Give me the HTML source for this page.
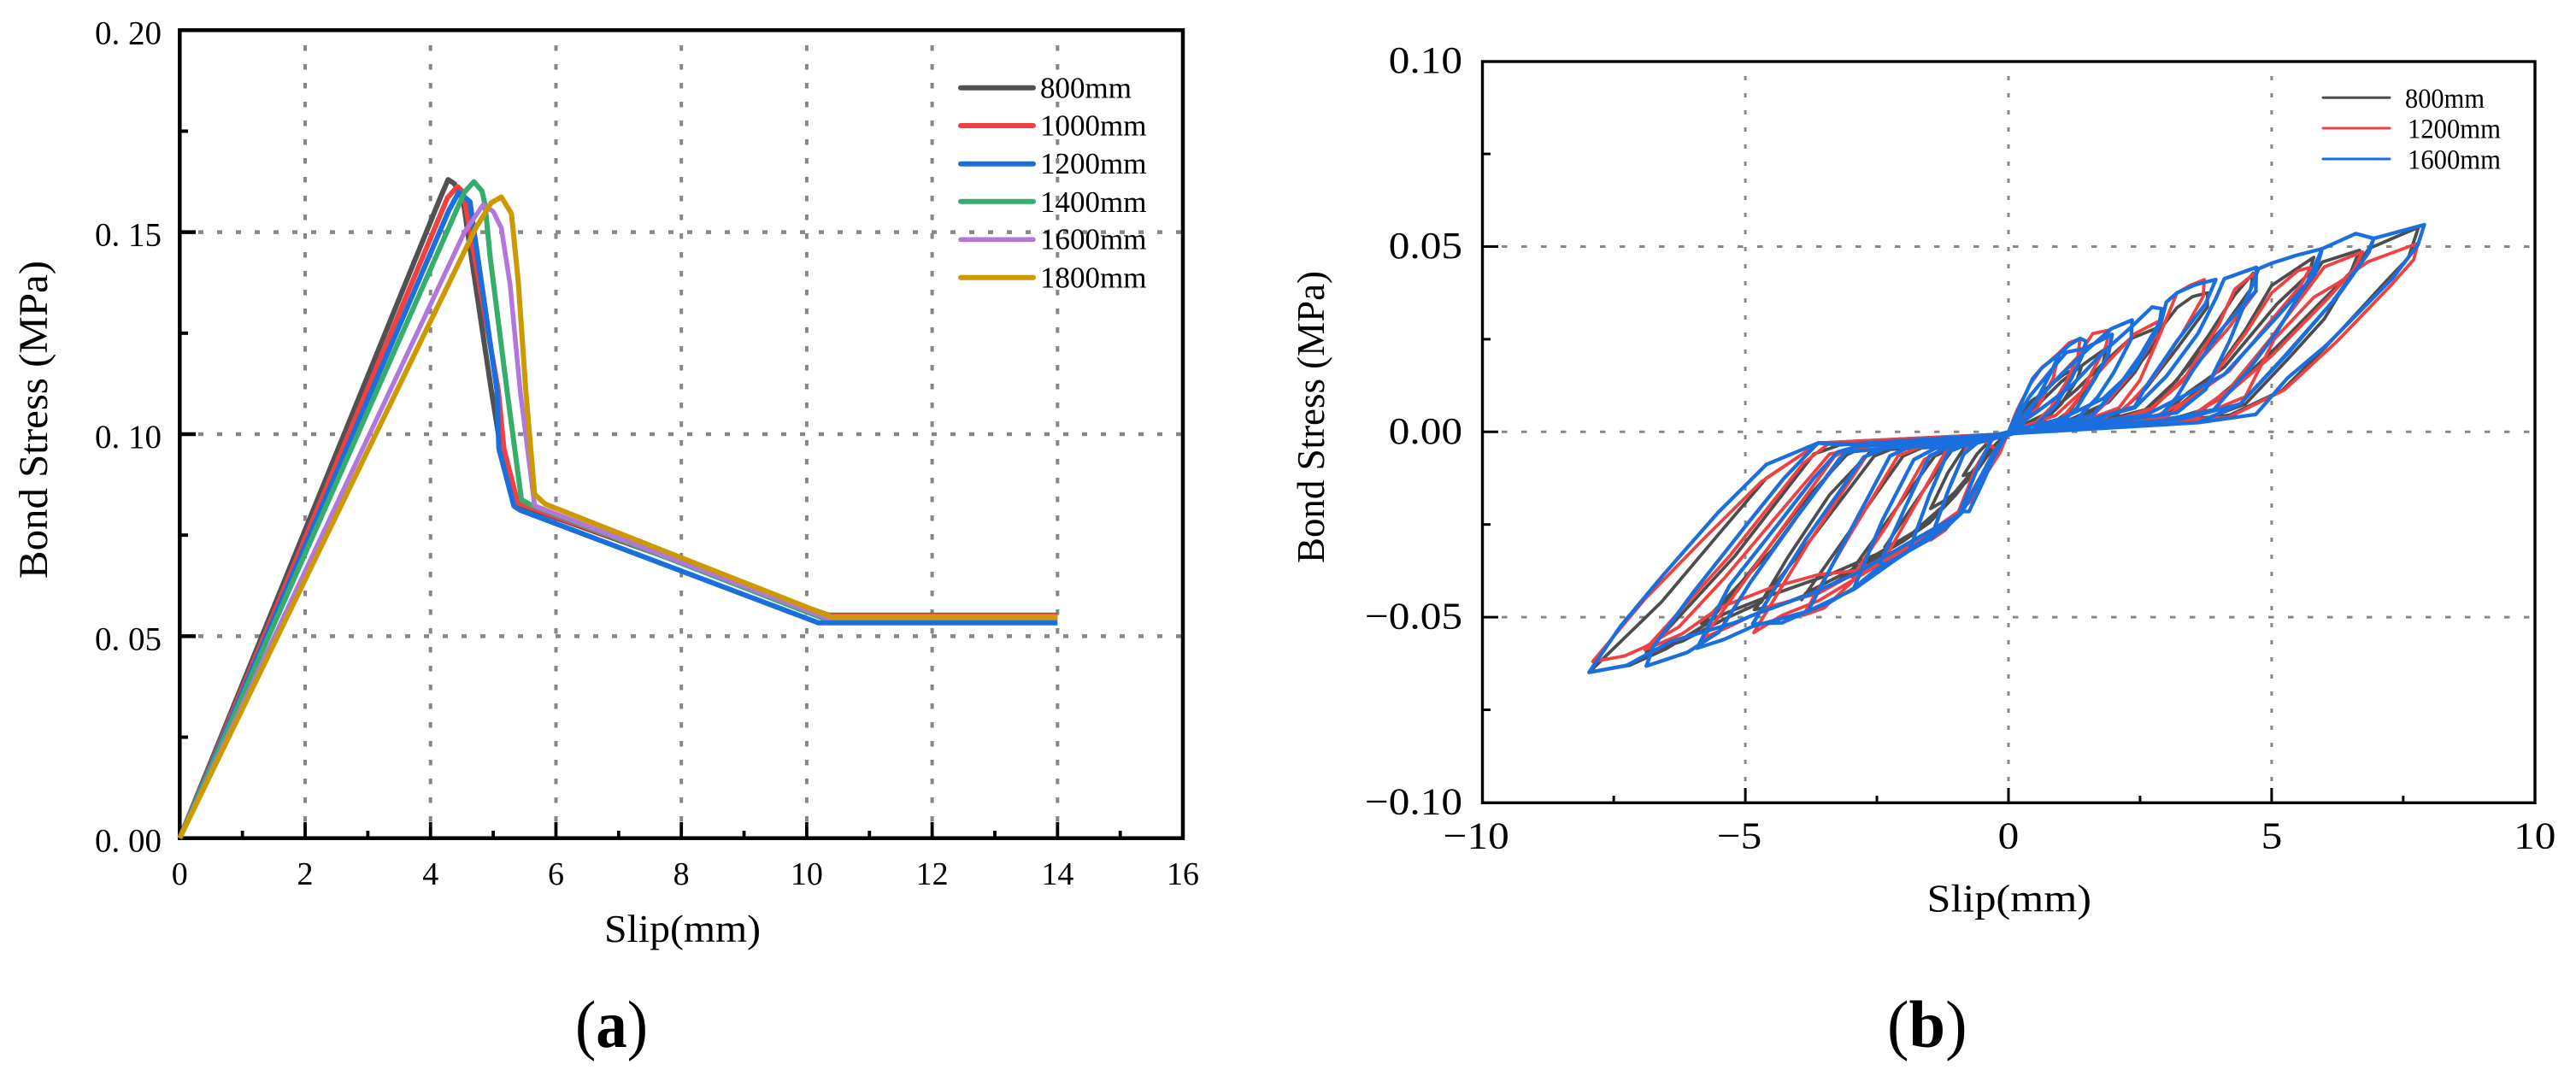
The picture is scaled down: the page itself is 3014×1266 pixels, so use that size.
<!DOCTYPE html>
<html>
<head>
<meta charset="utf-8">
<title>Bond stress vs slip</title>
<style>
html,body{margin:0;padding:0;background:#fff;width:3014px;height:1266px;overflow:hidden}
svg{display:block}
text{font-family:"Liberation Serif",serif;fill:#000}
</style>
</head>
<body>
<svg id="fig" xmlns="http://www.w3.org/2000/svg" width="3014" height="1266" viewBox="0 0 3014 1266">
  <g id="panelA">
    <g id="gridA"></g>
    <rect x="210.3" y="35.3" width="1173.7" height="945.4" fill="none" stroke="#000" stroke-width="4.5"/>
    <g id="ticksA"></g>
    <g id="seriesA"></g>
    <g id="legendA"></g>
    <text x="707" y="1102" font-size="46" textLength="183" lengthAdjust="spacingAndGlyphs">Slip(mm)</text>
    <text transform="translate(55,677) rotate(-90)" font-size="48" textLength="372" lengthAdjust="spacingAndGlyphs">Bond Stress (MPa)</text>
    <text x="673" y="1225" font-size="78" textLength="85" lengthAdjust="spacingAndGlyphs">(<tspan font-weight="bold">a</tspan>)</text>
  </g>
  <g id="panelB">
    <g id="gridB"></g>
    <rect x="1734.5" y="72" width="1231.5" height="867.3" fill="none" stroke="#000" stroke-width="3.4"/>
    <g id="ticksB"></g>
    <g id="seriesB"></g>
    <g id="legendB"></g>
    <text x="2254.5" y="1066.7" font-size="46" textLength="192.5" lengthAdjust="spacingAndGlyphs">Slip(mm)</text>
    <text transform="translate(1549,659) rotate(-90)" font-size="46" textLength="342" lengthAdjust="spacingAndGlyphs">Bond Stress (MPa)</text>
    <text x="2208" y="1225" font-size="78" textLength="93.6" lengthAdjust="spacingAndGlyphs">(<tspan font-weight="bold">b</tspan>)</text>
  </g>
</svg>
<script>
/* ---------- Panel (a) data ---------- */
const aXMajor = [0,2,4,6,8,10,12,14,16];
const aXLabels = ["0","2","4","6","8","10","12","14","16"];
const aXMinor = [1,3,5,7,9,11,13,15];
const aXGrid = [2,4,6,8,10,12,14];
const aYMajor = [0,0.05,0.10,0.15,0.20];
const aYLabels = ["0. 00","0. 05","0. 10","0. 15","0. 20"];
const aYMinor = [0.025,0.075,0.125,0.175];
const aYGrid = [0.05,0.10,0.15];
const aNames = ["800mm","1000mm","1200mm","1400mm","1600mm","1800mm"];

const a800 = [[0,0],[4.155,0.1585],[4.28,0.163],[4.38,0.162],[4.52,0.158],[4.59,0.1503],[4.97,0.1108],[5.12,0.0964],[5.33,0.083],[10.35,0.0552],[14,0.0552]];
const a1000 = [[0,0],[4.27,0.1585],[4.43,0.1613],[4.52,0.1599],[4.59,0.1539],[5.08,0.1108],[5.17,0.0964],[5.39,0.083],[10.35,0.0551],[14,0.0551]];
const a1200 = [[0,0],[4.29,0.1553],[4.45,0.1599],[4.63,0.1575],[4.68,0.1518],[5.06,0.1108],[5.09,0.0964],[5.33,0.0822],[5.43,0.0812],[10.19,0.0533],[14,0.0533]];
const a1400 = [[0,0],[4.54,0.1599],[4.69,0.1625],[4.82,0.1602],[4.87,0.1567],[4.95,0.144],[5.22,0.1108],[5.45,0.0838],[5.6,0.0825],[10.25,0.0545],[14,0.0545]];
const a1600 = [[0,0],[4.54,0.15],[4.84,0.1568],[5.0,0.1551],[5.13,0.151],[5.27,0.1369],[5.43,0.1108],[5.66,0.0823],[10.3,0.0546],[14,0.0546]];
const a1800 = [[0,0],[4.72,0.151],[4.97,0.1573],[5.13,0.1587],[5.29,0.1546],[5.4,0.1377],[5.52,0.1108],[5.66,0.0851],[5.83,0.0827],[10.39,0.0548],[14,0.0548]];

/* ---------- Panel (b) data ---------- */
const bXMajor = [-10,-5,0,5,10];
const bXLabels = ["\u221210","\u22125","0","5","10"];
const bXMinor = [-7.5,-2.5,2.5,7.5];
const bXGrid = [-5,0,5];
const bYMajor = [-0.10,-0.05,0,0.05,0.10];
const bYLabels = ["\u22120.10","\u22120.05","0.00","0.05","0.10"];
const bYMinor = [-0.075,-0.025,0.025,0.075];
const bYGrid = [-0.05,0,0.05];
const bNames = ["800mm","1200mm","1600mm"];

const b800 = [
[0,0],[.21,.005],[.45,.0085],[.68,.0105],[.5,.006],[.25,.002],[0,-.0005],
[-.3,-.0015],[-.6,-.006],[-.86,-.0118],[-.6,-.0105],[-.3,-.0045],[0,0],
[.3,.006],[.7,.0115],[1.05,.0155],[1.39,.0178],[1.3,.014],[1.0,.0075],[.6,.002],[0,-.0005],
[-.5,-.002],[-.85,-.0045],[-1.15,-.011],[-1.48,-.0207],[-1.15,-.018],[-.8,-.0135],[-.4,-.0055],[0,0],
[.5,.0065],[1.0,.0135],[1.45,.0185],[1.85,.0225],[1.8,.0185],[1.5,.012],[1.15,.0055],[.8,.002],[0,-.0005],
[-.7,-.003],[-1.05,-.0045],[-1.7,-.0175],[-2.35,-.0311],[-1.85,-.028],[-1.5,-.0235],[-1.0,-.017],[-.5,-.0075],[0,0],
[.8,.0055],[1.3,.0115],[1.8,.0185],[2.3,.025],[2.85,.0282],[2.75,.023],[2.3,.015],[1.8,.0075],[1.3,.003],[0,-.0005],
[-1.0,-.004],[-1.4,-.0065],[-2.2,-.022],[-2.97,-.0372],[-2.5,-.0335],[-2.0,-.0295],[-1.5,-.0245],[-1,-.017],[-.5,-.0075],[0,0],
[1.2,.0035],[1.9,.008],[2.4,.016],[2.9,.028],[3.2,.0335],[3.5,.0365],[3.78,.0375],[3.78,.0337],[3.2,.0225],[2.6,.0115],[2.05,.0045],[1.2,.0025],[0,-.0005],
[-1.6,-.004],[-2,-.0065],[-3,-.0265],[-3.93,-.0453],[-3.85,-.0435],[-3.3,-.0395],[-2.6,-.0345],[-2,-.0295],[-1,-.017],[-.5,-.0075],[0,0],
[1.8,.003],[2.6,.006],[3.2,.014],[3.8,.026],[4.3,.037],[4.65,.0428],[4.6,.0385],[4.1,.0285],[3.4,.0175],[2.8,.0075],[2.2,.003],[0,-.0005],
[-2.1,-.004],[-2.55,-.0065],[-3.7,-.028],[-4.83,-.048],[-4.3,-.0465],[-3.4,-.0415],[-2.5,-.034],[-1.5,-.0245],[-.5,-.0075],[0,0],
[2.4,.003],[3.1,.0055],[3.8,.0135],[4.5,.0275],[5.0,.0395],[5.8,.0471],[5.7,.0425],[5.1,.0345],[4.1,.0175],[3.4,.0105],[2.9,.004],[0,-.0005],
[-2.7,-.0038],[-3.2,-.007],[-4.5,-.032],[-5.83,-.0518],[-5.3,-.0485],[-4.5,-.044],[-3.4,-.0385],[-2.5,-.033],[-1.5,-.0245],[-.5,-.0075],[0,0],
[3,.003],[3.7,.006],[4.25,.0125],[5.0,.0255],[5.6,.0375],[5.96,.0458],[6.67,.049],[6.5,.043],[5.9,.0345],[5.1,.023],[4.2,.011],[3.4,.0035],[0,-.0005],
[-3.2,-.0035],[-3.7,-.006],[-5.2,-.0335],[-6.88,-.0595],[-6.2,-.0565],[-5.4,-.0505],[-4.7,-.046],[-4.2,-.034],[-3.4,-.017],[-2.6,-.005],[-1.5,-.0042],[-.5,-.002],[0,0],
[3.6,.0028],[4.5,.0075],[5.3,.0195],[6.0,.0305],[6.6,.0445],[6.85,.0495],[7.79,.0552],[7.6,.047],[7.1,.0395],[6.0,.0225],[5.2,.0112],[4.2,.0045],[3,.0028],[0,-.0005],
[-3.6,-.003],[-4.6,-.0125],[-5.5,-.0275],[-6.6,-.046],[-7.97,-.0649],[-7.2,-.063],[-6.5,-.0585],[-5.7,-.0515],[-4.9,-.0375],[-3.9,-.019],[-3.0,-.005],[-1.5,-.0042],[-.5,-.002],[0,0]
];

const b1200 = [
[0,0],[.15,.0055],[.4,.0125],[.62,.017],[.96,.0213],[.85,.0145],[.55,.0065],[.25,.002],[0,-.0005],
[-.3,-.002],[-.6,-.009],[-.95,-.0215],[-.7,-.0185],[-.45,-.012],[-.16,-.0056],[0,0],
[.15,.0055],[.4,.0125],[.62,.017],[.96,.0213],[1.15,.024],[1.36,.0252],[1.32,.0205],[1.1,.0135],[.8,.0065],[.45,.0015],[0,-.0005],
[-.5,-.002],[-.8,-.0045],[-1.1,-.014],[-1.48,-.0292],[-1.2,-.0265],[-.9,-.021],[-.55,-.0125],[-.16,-.0056],[0,0],
[.4,.006],[.9,.014],[1.3,.02],[1.6,.0265],[1.92,.0275],[1.85,.023],[1.6,.0165],[1.3,.0085],[.95,.0025],[0,-.0005],
[-.9,-.004],[-1.2,-.0055],[-1.7,-.018],[-2.38,-.0349],[-1.9,-.031],[-1.4,-.0275],[-.9,-.021],[-.55,-.0125],[0,0],
[.9,.0045],[1.4,.011],[1.9,.019],[2.4,.0265],[2.85,.0298],[2.8,.026],[2.4,.017],[1.9,.0085],[1.5,.003],[0,-.0005],
[-1.2,-.0045],[-1.6,-.0075],[-2.3,-.025],[-2.97,-.0392],[-2.5,-.0355],[-1.9,-.031],[-1.4,-.0275],[-.9,-.021],[-.55,-.0125],[0,0],
[1.4,.0028],[2.1,.0065],[2.5,.014],[2.9,.027],[3.2,.0375],[3.45,.0395],[3.72,.0411],[3.7,.0365],[3.3,.0265],[2.75,.0145],[2.2,.0062],[1.6,.0025],[0,-.0005],
[-1.7,-.0042],[-2.1,-.0065],[-3.0,-.0275],[-3.9,-.0495],[-3.5,-.0475],[-2.9,-.0395],[-2.4,-.035],[-1.9,-.031],[-.9,-.021],[-.55,-.0125],[0,0],
[1.6,.0025],[2.6,.005],[3.3,.0135],[4.0,.029],[4.3,.0385],[4.65,.0425],[4.71,.038],[4.15,.0275],[3.4,.0155],[2.75,.0065],[2,.003],[0,-.0005],
[-2.2,-.0038],[-2.7,-.0065],[-3.8,-.03],[-4.84,-.0542],[-4.3,-.0495],[-3.6,-.0455],[-2.9,-.0395],[-1.9,-.031],[-.9,-.021],[0,0],
[2,.0028],[3,.004],[3.7,.0115],[4.5,.0265],[5.0,.0375],[5.5,.0435],[5.74,.0444],[5.55,.0395],[4.9,.0285],[4.2,.0165],[3.4,.0085],[2.7,.0035],[0,-.0005],
[-2.8,-.0035],[-3.3,-.0065],[-4.6,-.032],[-5.8,-.0557],[-5.3,-.0525],[-4.5,-.047],[-3.6,-.0435],[-2.9,-.038],[-1.9,-.031],[-.9,-.021],[0,0],
[2.7,.003],[3.5,.0045],[4.2,.0115],[5.0,.0255],[5.5,.035],[6.0,.0445],[6.73,.0486],[6.55,.0435],[6.1,.0365],[5.0,.0205],[4.1,.0095],[3.4,.004],[0,-.0005],
[-3.4,-.003],[-3.9,-.0085],[-5.3,-.0335],[-6.91,-.0588],[-6.2,-.0545],[-5.5,-.0475],[-4.5,-.042],[-3.6,-.0385],[-2.9,-.0375],[-1.9,-.031],[-.9,-.021],[0,0],
[3.4,.003],[4.5,.0095],[5.05,.025],[5.8,.0363],[6.3,.0405],[6.64,.044],[6.83,.0459],[7.78,.0509],[7.7,.0465],[7.23,.039],[6.24,.0244],[5.24,.0113],[4.19,.004],[3,.0028],[0,-.0005],
[-3.6,-.003],[-4.7,-.0135],[-5.8,-.029],[-6.9,-.045],[-7.9,-.062],[-7.3,-.0605],[-6.9,-.058],[-6.26,-.0526],[-5.4,-.0395],[-4.3,-.021],[-3.4,-.006],[-2.6,-.0038],[-1.5,-.004],[-.5,-.002],[-.16,-.0056],[0,0]
];

const b1600 = [
[0,0],[.21,.0067],[.46,.0144],[.65,.0175],[.96,.0209],[.83,.0167],[.58,.0098],[.27,.002],[0,-.0008],
[-.3,-.0015],[-.55,-.0085],[-.92,-.0215],[-.75,-.0215],[-.5,-.014],[-.25,-.006],[0,0],
[.21,.0067],[.46,.0144],[.65,.0175],[.96,.0209],[1.16,.0235],[1.36,.0252],[1.47,.0245],[1.41,.0208],[1.2,.0145],[.9,.0072],[.5,.0015],[0,-.0008],
[-.6,-.003],[-.85,-.006],[-1.15,-.016],[-1.48,-.0288],[-1.2,-.0255],[-.9,-.022],[-.6,-.014],[-.3,-.006],[0,0],
[.4,.0095],[.8,.0165],[1.1,.0215],[1.45,.0225],[1.97,.0263],[1.9,.021],[1.65,.0145],[1.3,.0065],[1.0,.0025],[0,-.0008],
[-.9,-.004],[-1.15,-.0055],[-1.5,-.017],[-1.88,-.0318],[-1.5,-.0285],[-1.2,-.026],[-.9,-.022],[-.5,-.012],[0,0],
[.5,.008],[1.0,.0155],[1.5,.0222],[1.95,.0278],[2.35,.0302],[2.33,.025],[2.0,.016],[1.7,.0095],[1.3,.0035],[0,-.0008],
[-1.15,-.0042],[-1.5,-.0065],[-1.95,-.02],[-2.44,-.0353],[-2.3,-.036],[-1.9,-.0322],[-1.5,-.029],[-.9,-.022],[-.5,-.012],[0,0],
[.6,.006],[1.2,.0125],[1.8,.0215],[2.35,.0285],[2.73,.0337],[2.91,.0332],[2.87,.0295],[2.5,.0205],[2.1,.0125],[1.6,.0045],[0,-.0005],
[-1.4,-.0045],[-1.8,-.0075],[-2.4,-.024],[-2.94,-.0422],[-2.5,-.037],[-1.9,-.0322],[-.9,-.022],[-.5,-.012],[0,0],
[1,.0035],[1.8,.009],[2.4,.017],[2.9,.0295],[3.0,.035],[3.2,.0375],[3.55,.0397],[3.94,.0411],[3.74,.0345],[3.2,.0245],[2.6,.012],[2.4,.0068],[1.5,.003],[0,-.0005],
[-1.9,-.0042],[-2.25,-.0065],[-3.0,-.0265],[-3.81,-.0484],[-3.4,-.046],[-2.94,-.0422],[-2.4,-.0365],[-1.9,-.032],[-.9,-.022],[-.5,-.012],[0,0],
[1.5,.003],[2.4,.0065],[3.0,.015],[3.6,.0265],[3.94,.036],[4.1,.0413],[4.71,.0444],[4.7,.038],[4.1,.0285],[3.5,.0165],[3.2,.0095],[2.9,.0045],[1.5,.0025],[0,-.0005],
[-2.3,-.0042],[-2.75,-.0068],[-3.85,-.029],[-4.86,-.0518],[-4.3,-.0515],[-3.81,-.0484],[-2.94,-.0425],[-1.9,-.032],[-.9,-.022],[0,0],
[2,.0028],[3.2,.0052],[3.75,.0115],[4.2,.0245],[4.6,.0385],[4.75,.044],[5.0,.0455],[5.46,.0476],[5.96,.0494],[5.82,.0425],[5.1,.031],[4.1,.0155],[3.3,.0095],[2.6,.0045],[1.5,.0025],[0,-.0005],
[-2.9,-.004],[-3.25,-.0055],[-3.7,-.0125],[-4.3,-.0235],[-5.3,-.0415],[-5.92,-.0584],[-5.4,-.056],[-4.86,-.0525],[-3.81,-.0484],[-2.94,-.0425],[-1.9,-.032],[-.9,-.022],[0,0],
[2.9,.003],[3.9,.006],[4.55,.0165],[5.1,.027],[5.7,.041],[5.96,.0494],[6.6,.0535],[6.94,.0522],[6.8,.0475],[6.15,.035],[5.25,.0205],[4.4,.0075],[3.3,.0035],[0,-.0005],
[-3.2,-.0035],[-3.62,-.003],[-4.27,-.0126],[-5.0,-.0255],[-6.0,-.0435],[-6.75,-.058],[-6.88,-.0632],[-6.1,-.0595],[-5.5,-.054],[-4.9,-.0405],[-4.0,-.0225],[-3.1,-.0055],[-2,-.004],[-.9,-.003],[0,0],
[3.6,.0025],[4.4,.0075],[5.3,.021],[6.3,.0375],[6.85,.0485],[6.94,.0522],[7.9,.0559],[7.78,.0505],[7.3,.0415],[6.05,.0235],[5.3,.0145],[4.7,.0047],[3.6,.0025],[0,-.0005],
[-.9,-.003],[-1.5,-.004],[-2.6,-.0035],[-3.62,-.003],[-4.6,-.0088],[-5.52,-.0218],[-6.57,-.0388],[-7.38,-.0526],[-7.97,-.0649],[-7.25,-.063],[-6.8,-.0595],[-6.4,-.0565],[-5.92,-.0545],[-5.2,-.0515],[-4.86,-.0495],[-3.81,-.044],[-2.94,-.0385],[-1.9,-.03],[-.9,-.022],[0,0]
];

/* ---------- Axis functions ---------- */
function axAx(v){ return 210.3 + v * 73.36; }
function axAy(v){ return 980.7 - v * 4727; }
function axBx(v){ return 2350 + v * 61.58; }
function axBy(v){ return 505.3 - v * 4336; }

const NS = "http://www.w3.org/2000/svg";
function mk(parent, tag, attrs){
  const e = document.createElementNS(NS, tag);
  for (const k in attrs) e.setAttribute(k, attrs[k]);
  parent.appendChild(e);
  return e;
}
function pathOf(points, fx, fy){
  return points.map(function(p,i){ return (i ? "L" : "M") + fx(p[0]).toFixed(1) + " " + fy(p[1]).toFixed(1); }).join("");
}

/* ---------- Panel (a) ---------- */
const gridA = document.getElementById("gridA");
aXGrid.forEach(function(v){
  const l = mk(gridA, "line", {x1:axAx(v), x2:axAx(v), y1:53, y2:962, stroke:"#868686", "stroke-width":4, "stroke-dasharray":"6.5 15.5"});
  
  
});
aYGrid.forEach(function(v){
  const l = mk(gridA, "line", {x1:232, x2:1384, y1:axAy(v), y2:axAy(v), stroke:"#868686", "stroke-width":4.5, "stroke-dasharray":"6 16"});
  
  
});

const ticksA = document.getElementById("ticksA");
aXMajor.forEach(function(v,i){
  if (i > 0 && i < aXMajor.length - 1) {
    const t = mk(ticksA, "line", {x1:axAx(v), x2:axAx(v), y1:980.7, y2:962, stroke:"#000", "stroke-width":3.8});
    
    
  }
  const s = mk(ticksA, "text", {x:axAx(v), y:1035, "font-size":38, "text-anchor":"middle"});
  s.textContent = aXLabels[i];
  
  
});
aXMinor.forEach(function(v){
  const t = mk(ticksA, "line", {x1:axAx(v), x2:axAx(v), y1:980.7, y2:972, stroke:"#000", "stroke-width":3.8});
  
  
});
aYMajor.forEach(function(v,i){
  if (i > 0 && i < aYMajor.length - 1) {
    const t = mk(ticksA, "line", {x1:210.3, x2:229, y1:axAy(v), y2:axAy(v), stroke:"#000", "stroke-width":4.5});
    
    
  }
  const s = mk(ticksA, "text", {x:189, y:axAy(v)+16, "font-size":39, "text-anchor":"end", "xml:space":"preserve"});
  s.textContent = aYLabels[i];
  
  
});
aYMinor.forEach(function(v){
  const t = mk(ticksA, "line", {x1:210.3, x2:220, y1:axAy(v), y2:axAy(v), stroke:"#000", "stroke-width":4});
  
  
});

const aData = [a800, a1000, a1200, a1400, a1600, a1800];
const aColors = ["#515151","#f14040","#1a6fdf","#37ad6b","#b177de","#cc9900"];
const aWidths = [6,6,6,6,5.5,6];
const seriesA = document.getElementById("seriesA");
aData.forEach(function(d,i){
  const p = mk(seriesA, "path", {d:pathOf(d, axAx, axAy), fill:"none", stroke:aColors[i], "stroke-width":aWidths[i], "stroke-linejoin":"round"});
  
  
});

const legendA = document.getElementById("legendA");
const legALineY = [102.7,147,191.7,235.7,280.3,324.7];
const legATextY = [114.7,158.3,203,248,291.7,336.7];
aNames.forEach(function(n,i){
  const l = mk(legendA, "line", {x1:1124, x2:1209, y1:legALineY[i], y2:legALineY[i], stroke:aColors[i], "stroke-width":aWidths[i], "stroke-linecap":"round"});
  
  
  const s = mk(legendA, "text", {x:1217, y:legATextY[i], "font-size":35});
  s.textContent = n;
  
  
});

/* ---------- Panel (b) ---------- */
const gridB = document.getElementById("gridB");
bXGrid.forEach(function(v){
  const l = mk(gridB, "line", {x1:axBx(v), x2:axBx(v), y1:89, y2:922, stroke:"#888", "stroke-width":3, "stroke-dasharray":"5 15"});
  
  
});
bYGrid.forEach(function(v){
  const l = mk(gridB, "line", {x1:1757, x2:2966, y1:axBy(v), y2:axBy(v), stroke:"#888", "stroke-width":3, "stroke-dasharray":"6.5 16.5"});
  
  
});

const ticksB = document.getElementById("ticksB");
bXMajor.forEach(function(v,i){
  if (i > 0 && i < bXMajor.length - 1) {
    const t = mk(ticksB, "line", {x1:axBx(v), x2:axBx(v), y1:939.3, y2:922, stroke:"#000", "stroke-width":3});
    
    
  }
  const s = mk(ticksB, "text", {transform:"translate("+(axBx(v)-(bXLabels[i].length>1&&bXLabels[i][0]=="\u2212"?7:0))+",992.7) scale(1.12 1)", "font-size":44, "text-anchor":"middle"});
  s.textContent = bXLabels[i];
  
  
});
bXMinor.forEach(function(v){
  const t = mk(ticksB, "line", {x1:axBx(v), x2:axBx(v), y1:939.3, y2:931, stroke:"#000", "stroke-width":3});
  
  
});
bYMajor.forEach(function(v,i){
  if (i > 0 && i < bYMajor.length - 1) {
    const t = mk(ticksB, "line", {x1:1734.5, x2:1753, y1:axBy(v), y2:axBy(v), stroke:"#000", "stroke-width":3});
    
    
  }
  const s = mk(ticksB, "text", {transform:"translate(1711,"+(axBy(v)+13.5)+") scale(1.12 1)", "font-size":44, "text-anchor":"end"});
  s.textContent = bYLabels[i];
  
  
});
bYMinor.forEach(function(v){
  const t = mk(ticksB, "line", {x1:1734.5, x2:1744, y1:axBy(v), y2:axBy(v), stroke:"#000", "stroke-width":3});
  
  
});

const bData = [b800, b1200, b1600];
const bColors = ["#4d4d4d","#f14040","#1a6fdf"];
const bWidths = [3.8,3.8,4.3];
const seriesB = document.getElementById("seriesB");
bData.forEach(function(d,i){
  const p = mk(seriesB, "path", {d:pathOf(d, axBx, axBy), fill:"none", stroke:bColors[i], "stroke-width":bWidths[i], "stroke-linejoin":"round"});
  
  
});

const legendB = document.getElementById("legendB");
const legBLineY = [114.3,150,186];
const legBTextY = [126,161.7,197.7];
const legBTextX = [2814,2817,2817];
const legBTextW = [93,109,109];
bNames.forEach(function(n,i){
  const l = mk(legendB, "line", {x1:2718, x2:2796, y1:legBLineY[i], y2:legBLineY[i], stroke:bColors[i], "stroke-width":3, "stroke-linecap":"round"});
  
  
  const s = mk(legendB, "text", {x:legBTextX[i], y:legBTextY[i], "font-size":33, textLength:legBTextW[i], lengthAdjust:"spacingAndGlyphs"});
  s.textContent = n;
  
  
});
</script>
</body>
</html>
